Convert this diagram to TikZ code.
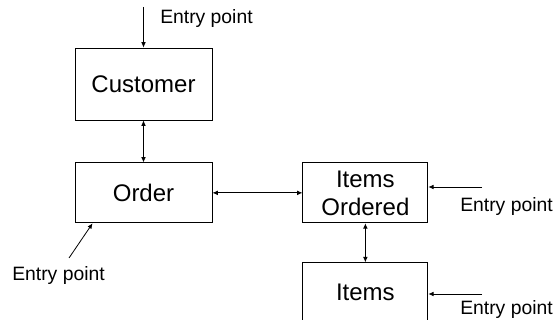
\documentclass[tikz,border=0pt]{standalone}
\usepackage{fontspec}
\setmainfont{Liberation Sans}
\usetikzlibrary{arrows.meta,positioning}

\begin{document}
\begin{tikzpicture}[x=0.75pt, y=-0.75pt, auto,
    entity/.style={rectangle, draw, line width=0.65pt, align=center, inner sep=0pt,
        font=\fontsize{18}{21}\selectfont},
    entrytext/.style={inner sep=0pt, font=\fontsize{14.5}{17}\selectfont},
    link/.style={{Latex[length=4pt,width=3.5pt]}-{Latex[length=4pt,width=3.5pt]}, line width=0.6pt},
    feed/.style={-{Latex[length=4pt,width=3.5pt]}, line width=0.6pt}]
    \useasboundingbox (0,0) rectangle (556,320);

    \node[entity, minimum width=102.75pt, minimum height=54pt] (customer) at (143.5,84) {Customer};
    \node[entity, minimum width=102.75pt, minimum height=45pt, below=31.5pt of customer] (order) {Order};
    \node[entity, minimum width=93.75pt, minimum height=45pt, right=67.5pt of order] (ordered) {Items\\Ordered};
    \node[entity, minimum width=93.75pt, minimum height=44pt, below=29.25pt of ordered] (items) {Items};

    \draw[link] (customer) -- (order);
    \draw[link] (order) -- (ordered);
    \draw[link] (ordered) -- (items);

    % entry points
    \coordinate (custin) at (143.5,7);
    \coordinate (orderin) at (69,258);
    \coordinate (orderedin) at (482,187);
    \coordinate (itemsin) at (482,294);

    \draw[feed] (custin) -- (customer.north);
    \draw[feed] (orderin) -- ([xshift=13.5pt]order.south west);
    \draw[feed] (orderedin) -- (orderedin -| ordered.east);
    \draw[feed] (itemsin) -- (itemsin -| items.east);

    \node[entrytext, anchor=west] (custlabel) at (160,18.5) {Entry point};
    \node[entrytext] (orderlabel) at (58.5,276) {Entry point};
    \node[entrytext, anchor=west] (orderedlabel) at (460,207) {Entry point};
    \node[entrytext, anchor=west] (itemslabel) at (460,309) {Entry point};
\end{tikzpicture}
\end{document}
